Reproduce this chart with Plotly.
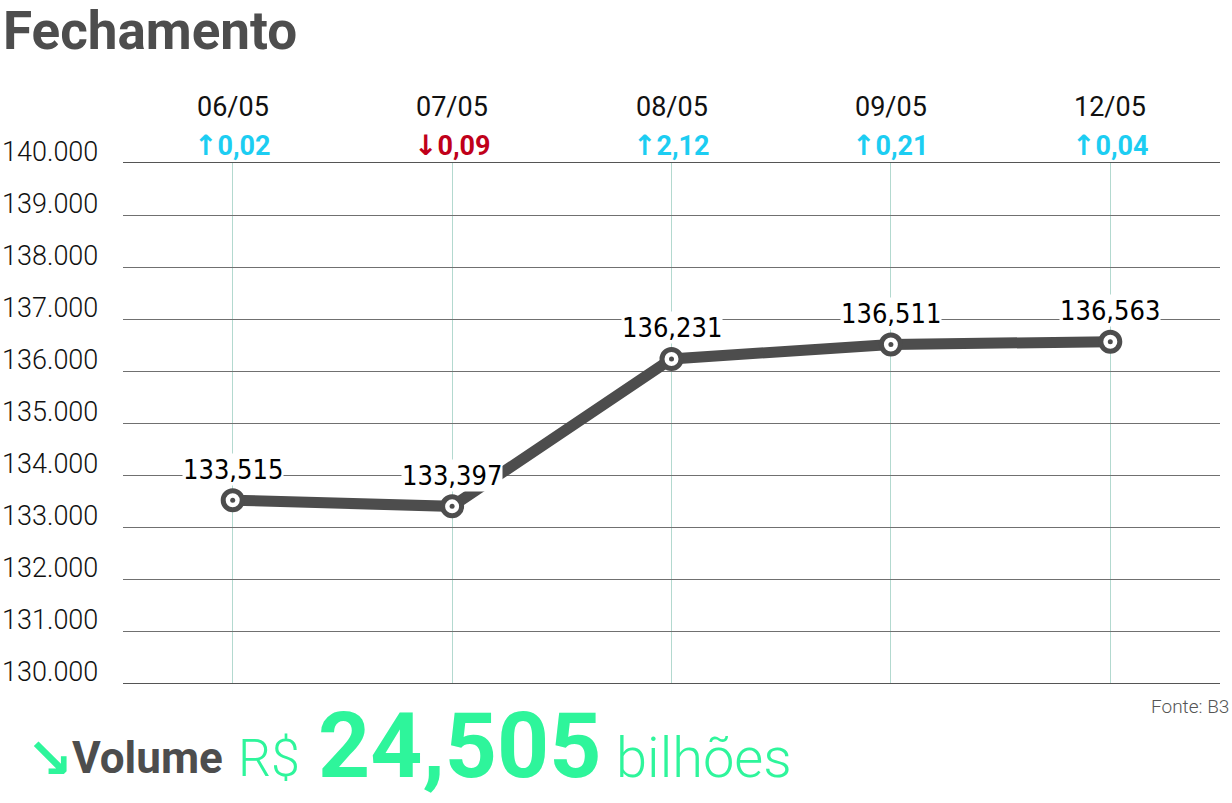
import plotly.graph_objects as go

dates = ["06/05", "07/05", "08/05", "09/05", "12/05"]
closing = [133515, 133397, 136231, 136511, 136563]
changes = [0.02, -0.09, 2.12, 0.21, 0.04]
y_ticks = [130000, 131000, 132000, 133000, 134000, 135000, 136000, 137000, 138000, 139000, 140000]
volume_text = "24,505"

W, H = 1232, 803
L, R, T, B = 123, 12, 163, 120
PW, PH = W - L - R, H - T - B

def px(x):
    return (x - L) / PW

def py(y):
    return (H - B - y) / PH

xs = list(range(len(dates)))
LINE = "#4d4d4d"
GREEN = "#2ef59b"
CYAN = "#1ccdf2"
RED = "#c0001a"

fig = go.Figure()
fig.add_trace(go.Scatter(x=xs, y=closing, mode="lines", line=dict(color=LINE, width=11),
                         hoverinfo="skip", showlegend=False))
fig.add_trace(go.Scatter(x=xs, y=closing, mode="markers",
                         marker=dict(size=19, color="white", line=dict(color=LINE, width=5)),
                         hoverinfo="skip", showlegend=False))
fig.add_trace(go.Scatter(x=xs, y=closing, mode="markers",
                         marker=dict(size=5, color=LINE),
                         hoverinfo="skip", showlegend=False))

ann = []
# data labels
for i, v in enumerate(closing):
    ann.append(dict(x=i, y=v, xref="x", yref="y", text=f"{v/1000:.3f}".replace(".", ","),
                    showarrow=False, yanchor="middle", yshift=31, bgcolor="white", borderpad=0,
                    font=dict(family="DejaVu Sans Condensed, Liberation Sans Narrow, sans-serif",
                              size=27, color="black")))
# header labels
for i, (d, c) in enumerate(zip(dates, changes)):
    ann.append(dict(x=i, y=1, xref="x", yref="paper", text=d, showarrow=False,
                    yanchor="middle", yshift=56,
                    font=dict(family="Roboto", size=27, color="#111111")))
    arrow = "↑" if c >= 0 else "↓"
    col = CYAN if c >= 0 else RED
    val = f"{abs(c):.2f}".replace(".", ",")
    ann.append(dict(x=i, y=1, xref="x", yref="paper",
                    text=f"<span style='font-family:DejaVu Sans;font-size:28px'><b>{arrow}</b></span><b>{val}</b>",
                    showarrow=False, yanchor="middle", yshift=18,
                    font=dict(family="Roboto", size=27, color=col)))
# y tick labels
for t in y_ticks:
    ann.append(dict(x=0, y=t, xref="paper", yref="y", text=f"{t:,}".replace(",", "."),
                    showarrow=False, xanchor="left", xshift=-L, yanchor="middle", yshift=11,
                    font=dict(family="Roboto", size=27, color="#111111", weight=300)))
# title
ann.append(dict(x=px(1), y=py(31), xref="paper", yref="paper", text="<b>Fechamento</b>",
                showarrow=False, xanchor="left", yanchor="middle",
                font=dict(family="Roboto", size=53, color=LINE)))
# source
ann.append(dict(x=px(1231), y=py(706), xref="paper", yref="paper", text="Fonte: B3",
                showarrow=False, xanchor="right", yanchor="middle",
                font=dict(family="Roboto", size=19, color="#555555", weight=300)))
# volume line
ann.append(dict(x=px(49), y=py(758), xref="paper", yref="paper", text="<b>↘</b>",
                showarrow=False, xanchor="center", yanchor="middle",
                font=dict(family="DejaVu Sans", size=56, color=GREEN)))
ann.append(dict(x=px(70), y=py(758), xref="paper", yref="paper", text="<b>Volume</b>",
                showarrow=False, xanchor="left", yanchor="middle",
                font=dict(family="Roboto", size=44, color=LINE)))
ann.append(dict(x=px(236), y=py(758), xref="paper", yref="paper", text="R$",
                showarrow=False, xanchor="left", yanchor="middle",
                font=dict(family="Roboto", size=52, color=GREEN, weight=300)))
ann.append(dict(x=px(316), y=py(746), xref="paper", yref="paper", text=f"<b>{volume_text}</b>",
                showarrow=False, xanchor="left", yanchor="middle",
                font=dict(family="Roboto", size=91, color=GREEN)))
ann.append(dict(x=px(614), y=py(758), xref="paper", yref="paper", text="bilhões",
                showarrow=False, xanchor="left", yanchor="middle",
                font=dict(family="Roboto", size=56, color=GREEN, weight=300)))

fig.update_layout(
    width=W, height=H, margin=dict(l=L, r=R, t=T, b=B),
    paper_bgcolor="white", plot_bgcolor="white",
    annotations=ann, showlegend=False,
    xaxis=dict(range=[-0.5, 4.5], tickvals=xs, showticklabels=False, showgrid=True,
               gridcolor="#b3d9cf", gridwidth=1, zeroline=False,
               showline=True, linecolor="#555555", linewidth=1, mirror=True, ticks=""),
    yaxis=dict(range=[130000, 140000], tickvals=y_ticks, showticklabels=False, showgrid=True,
               gridcolor="#707070", gridwidth=1, zeroline=False, showline=False, ticks=""),
)
fig.write_html("out.html", config={"displayModeBar": False},
               post_script="document.body.style.margin='0px';document.body.style.overflow='hidden';")
